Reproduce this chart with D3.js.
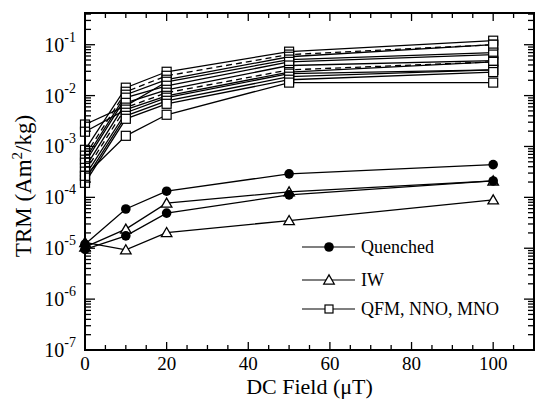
<!DOCTYPE html>
<html><head><meta charset="utf-8">
<script src="https://cdn.jsdelivr.net/npm/d3@7"></script>
<style>body{margin:0;background:#fff} text{fill:#000}</style>
</head><body>
<svg id="c" width="541" height="399"></svg>
<script>
// ---- data ----
const fields = [0, 10, 20, 50, 100];
const quenchedA = [1.2e-5, 5.9e-5, 1.32e-4, 2.9e-4, 4.4e-4];
const quenchedB = [9.5e-6, 1.75e-5, 4.9e-5, 1.12e-4, 2.1e-4];
const iwA = [1.05e-5, 2.37e-5, 7.7e-5, 1.28e-4, 2.1e-4];
const iwB = [1.3e-5, 9.3e-6, 2.03e-5, 3.5e-5, 8.9e-5];
const ox1 = [8.6e-4, 1.43e-2, 2.94e-2, 7.3e-2, 1.2e-1];
const ox2 = [6.6e-4, 1.19e-2, 2.45e-2, 6.4e-2, 1.0e-1];
const ox3 = [5.5e-4, 1.04e-2, 2.05e-2, 5.8e-2, 1.0e-1];
const ox4 = [2.7e-3, 6.3e-3, 1.87e-2, 5.1e-2, 7.0e-2];
const ox5 = [4.8e-4, 9.1e-3, 1.56e-2, 4.6e-2, 6.4e-2];
const ox6 = [3.8e-4, 7.2e-3, 1.30e-2, 3.9e-2, 4.85e-2];
const ox7 = [3.2e-4, 5.8e-3, 1.14e-2, 3.2e-2, 4.6e-2];
const ox8 = [1.95e-3, 5.3e-3, 9.9e-3, 2.9e-2, 4.6e-2];
const ox9 = [2.65e-4, 4.6e-3, 9.1e-3, 2.7e-2, 3.2e-2];
const ox10 = [2.2e-4, 4.0e-3, 7.9e-3, 2.35e-2, 3.2e-2];
const ox11 = [1.93e-4, 3.5e-3, 6.9e-3, 2.05e-2, 2.9e-2];
const ox12 = [2.65e-4, 1.62e-3, 4.2e-3, 1.8e-2, 1.8e-2];
const oxSeries = [ox1, ox2, ox3, ox4, ox5, ox6, ox7, ox8, ox9, ox10, ox11, ox12];
const oxDashed = [false, true, false, false, false, false, true, false, false, false, false, false];
const quenchedSeries = [quenchedA, quenchedB];
const iwSeries = [iwA, iwB];
const xTickValues = [0, 20, 40, 60, 80, 100];
const yExponents = [-7, -6, -5, -4, -3, -2, -1];
const legendLabels = ["Quenched", "IW", "QFM, NNO, MNO"];

// ---- drawing ----
const svg = d3.select("#c");
const L = 85, R = 534, T = 13, B = 350;
const x = d3.scaleLinear().domain([0, 110]).range([L, R]);
const y = d3.scaleLog().domain([1e-7, 0.42]).range([B, T]);
const font = "'Liberation Serif', 'Times New Roman', serif";

const line = d3.line().x((d, i) => x(fields[i])).y(d => y(d));
const g = svg.append("g");

// lines
oxSeries.forEach((s, k) => {
  g.append("path").attr("d", line(s)).attr("fill", "none").attr("stroke", "#000")
    .attr("stroke-width", 1.3).attr("stroke-dasharray", oxDashed[k] ? "6,4" : null);
});
quenchedSeries.concat(iwSeries).forEach(s => {
  g.append("path").attr("d", line(s)).attr("fill", "none").attr("stroke", "#000").attr("stroke-width", 1.3);
});

// markers
const sq = 9;
oxSeries.forEach(s => {
  s.forEach((v, i) => {
    g.append("rect").attr("x", x(fields[i]) - sq / 2).attr("y", y(v) - sq / 2)
      .attr("width", sq).attr("height", sq).attr("fill", "#fff").attr("stroke", "#000").attr("stroke-width", 1.2);
  });
});
const tri = d3.symbol().type(d3.symbolTriangle).size(48);
iwSeries.forEach(s => {
  s.forEach((v, i) => {
    g.append("path").attr("d", tri()).attr("transform", `translate(${x(fields[i])},${y(v) + 1})`)
      .attr("fill", "#fff").attr("stroke", "#000").attr("stroke-width", 1.3);
  });
});
quenchedSeries.forEach(s => {
  s.forEach((v, i) => {
    g.append("circle").attr("cx", x(fields[i])).attr("cy", y(v)).attr("r", 4.8).attr("fill", "#000");
  });
});

// frame
svg.append("rect").attr("x", L).attr("y", T).attr("width", R - L).attr("height", B - T)
  .attr("fill", "none").attr("stroke", "#000").attr("stroke-width", 2);

// x ticks
const xt = svg.append("g").attr("stroke", "#000").attr("stroke-width", 1.3);
d3.range(0, 111, 5).forEach(v => {
  const len = v % 20 === 0 ? 8 : 5;
  xt.append("line").attr("x1", x(v)).attr("x2", x(v)).attr("y1", B).attr("y2", B - len);
  xt.append("line").attr("x1", x(v)).attr("x2", x(v)).attr("y1", T).attr("y2", T + len);
});
// y ticks
y.ticks().forEach(v => {
  const m = Math.round(v / Math.pow(10, Math.floor(Math.log10(v) + 1e-9)));
  const len = m === 1 ? 10 : 6;
  xt.append("line").attr("x1", L).attr("x2", L + len).attr("y1", y(v)).attr("y2", y(v));
  xt.append("line").attr("x1", R).attr("x2", R - len).attr("y1", y(v)).attr("y2", y(v));
});

// x tick labels
xTickValues.forEach(v => {
  svg.append("text").attr("x", x(v)).attr("y", 370).attr("text-anchor", "middle")
    .attr("font-family", font).attr("font-size", 19).text(v);
});
// y tick labels
yExponents.forEach(e => {
  const t = svg.append("text").attr("x", 76).attr("y", y(Math.pow(10, e)) + 7).attr("text-anchor", "end")
    .attr("font-family", font).attr("font-size", 20);
  t.append("tspan").text("10");
  t.append("tspan").attr("dy", -10).attr("font-size", 14).text(String(e));
});

// axis titles
svg.append("text").attr("x", (L + R) / 2).attr("y", 394).attr("text-anchor", "middle")
  .attr("font-family", font).attr("font-size", 22).text("DC Field (μT)");
const yt = svg.append("text").attr("transform", "translate(31,186) rotate(-90)").attr("text-anchor", "middle")
  .attr("font-family", font).attr("font-size", 23).attr("fill", "#000");
yt.append("tspan").text("TRM (Am");
yt.append("tspan").attr("dy", -9).attr("font-size", 15).text("2");
yt.append("tspan").attr("dy", 9).text("/kg)");

// legend
const legY = [247, 280, 309];
const lsq = 8;
legendLabels.forEach((lab, k) => {
  const ly = legY[k];
  svg.append("line").attr("x1", 302).attr("x2", 355).attr("y1", ly).attr("y2", ly)
    .attr("stroke", "#000").attr("stroke-width", 1.2);
  if (k === 0) svg.append("circle").attr("cx", 329).attr("cy", ly).attr("r", 4.8).attr("fill", "#000");
  if (k === 1) svg.append("path").attr("d", tri()).attr("transform", `translate(329,${ly + 1})`)
    .attr("fill", "#fff").attr("stroke", "#000").attr("stroke-width", 1.3);
  if (k === 2) svg.append("rect").attr("x", 329 - lsq / 2).attr("y", ly - lsq / 2).attr("width", lsq).attr("height", lsq)
    .attr("fill", "#fff").attr("stroke", "#000").attr("stroke-width", 1.2);
  svg.append("text").attr("x", 361).attr("y", ly + 6).attr("font-family", font).attr("font-size", 18).text(lab);
});
</script>
</body></html>
